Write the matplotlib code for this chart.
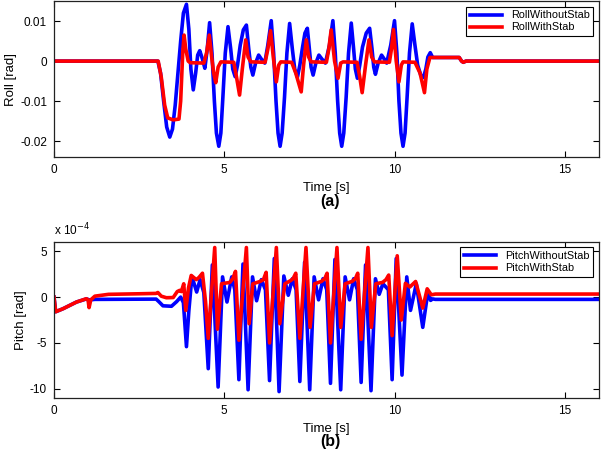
import numpy as np
import matplotlib.pyplot as plt

plt.rcParams['font.family'] = ['Liberation Sans', 'DejaVu Sans']
plt.rcParams['axes.unicode_minus'] = False

# roll, values in 1e-2 rad
roll_t_without = [0, 3.05, 3.13, 3.22, 3.31, 3.40, 3.48, 3.56, 3.64, 3.72, 3.80, 3.89, 3.96, 4.02,
                  4.09, 4.16, 4.22, 4.28, 4.36, 4.43, 4.50,
                  4.57, 4.64, 4.71, 4.77, 4.84, 4.90, 4.96, 5.03, 5.11, 5.19, 5.25, 5.32, 5.39, 5.47,
                  5.56, 5.65, 5.72, 5.78, 5.84, 5.92, 6.01, 6.09, 6.19, 6.28,
                  6.38, 6.45, 6.52, 6.58, 6.64, 6.70, 6.77, 6.84, 6.92, 7.00, 7.07, 7.15, 7.22, 7.30,
                  7.37, 7.44, 7.50, 7.55, 7.61, 7.69, 7.78, 7.87, 7.97, 8.09,
                  8.19, 8.26, 8.33, 8.39, 8.45, 8.51, 8.58, 8.65, 8.73, 8.80, 8.85, 8.91, 8.98, 9.06,
                  9.17, 9.27, 9.34, 9.39, 9.44, 9.52, 9.62, 9.70, 9.77, 9.89,
                  10.00, 10.07, 10.13, 10.19, 10.25, 10.31, 10.37, 10.44, 10.52, 10.60, 10.68, 10.77,
                  10.85, 10.92, 10.98, 11.05, 11.12, 11.90, 11.97, 12.02, 12.10, 16.0]
roll_without = [0, 0, -0.3, -1.0, -1.65, -1.9, -1.7, -1.1, -0.3, 0.5, 1.2, 1.42, 0.8, -0.2,
                -0.72, -0.3, 0.15, 0.26, 0.05, -0.18, 0.3,
                0.96, 0.2, -1.0, -1.8, -2.13, -1.8, -0.9, 0.2, 0.86, 0.3, -0.2, -0.39, -0.1, 0.4,
                0.78, 0.90, 0.3, -0.15, -0.35, -0.05, 0.15, 0.05, -0.05, 0.4,
                1.01, 0.2, -1.0, -1.8, -2.13, -1.8, -0.9, 0.2, 0.94, 0.3, -0.2, -0.40, -0.1, 0.35,
                0.7, 0.82, 0.3, -0.15, -0.35, -0.05, 0.15, 0.05, -0.05, 0.4,
                1.01, 0.2, -1.0, -1.8, -2.13, -1.8, -0.9, 0.2, 0.95, 0.3, -0.2, -0.43, -0.1, 0.35,
                0.7, 0.82, 0.3, -0.15, -0.33, -0.05, 0.15, 0.05, -0.05, 0.4,
                1.01, 0.2, -1.0, -1.8, -2.13, -1.8, -0.9, 0.2, 0.93, 0.4, -0.1, -0.35,
                -0.41, -0.2, 0.1, 0.21, 0.09, 0.09, 0.0, -0.03, 0.0, 0.0]

roll_t_with = [0, 3.06, 3.15, 3.25, 3.34, 3.50, 3.67, 3.72, 3.78, 3.82, 3.87, 3.94, 4.00, 4.40,
               4.48, 4.56, 4.63, 4.69, 4.75, 4.82, 4.90, 5.28, 5.36, 5.45, 5.53, 5.63, 5.70, 5.78,
               6.20, 6.28, 6.36, 6.44, 6.53, 6.60, 6.66, 6.98, 7.10, 7.26, 7.33, 7.41, 7.48, 7.55,
               8.00, 8.07, 8.14, 8.24, 8.34, 8.42, 8.49, 8.90, 8.98, 9.05, 9.15, 9.25, 9.33, 9.41,
               9.85, 9.91, 9.97, 10.05, 10.13, 10.20, 10.25, 10.60, 10.75, 10.88, 10.95, 11.04,
               11.90, 11.97, 12.02, 12.10, 16.0]
roll_with = [0, 0, -0.4, -1.1, -1.42, -1.47, -1.45, -1.0, 0.2, 0.65, 0.3, 0.0, -0.04, -0.05,
             0.2, 0.65, 0.1, -0.3, -0.54, -0.15, -0.02, -0.03, -0.4, -0.85, -0.2, 0.53, 0.1, -0.02,
             -0.03, 0.3, 0.76, 0.1, -0.52, -0.1, -0.02, -0.03, -0.3, -0.77, -0.1, 0.53, 0.1, -0.02,
             -0.03, 0.3, 0.78, 0.0, -0.43, -0.05, -0.02, -0.03, -0.4, -0.79, -0.1, 0.53, 0.1, -0.02,
             -0.03, 0.3, 0.79, 0.0, -0.52, -0.1, -0.02, -0.03, -0.3, -0.79, -0.2, 0.09,
             0.09, 0.0, -0.03, 0.0, 0.0]

# pitch, values in 1e-4 rad
pitch_t_without = [0, 0.05, 0.27, 0.66, 0.95, 1.00, 1.03, 1.07, 1.20, 3.00, 3.08, 3.20, 3.45, 3.60,
                   3.72, 3.80, 3.89, 3.96, 4.05, 4.19, 4.29, 4.40,
                   4.53, 4.65, 4.82, 4.95, 5.08, 5.22, 5.31,
                   5.43, 5.55, 5.70, 5.83, 5.95, 6.09, 6.21,
                   6.33, 6.47, 6.61, 6.75, 6.88, 7.00, 7.11,
                   7.22, 7.36, 7.51, 7.64, 7.77, 7.90, 8.01,
                   8.12, 8.25, 8.42, 8.55, 8.68, 8.80, 8.91,
                   9.02, 9.15, 9.31, 9.44, 9.55, 9.66, 9.82,
                   9.93, 10.05, 10.22, 10.36, 10.47, 10.64, 10.83, 10.98, 11.06, 11.12, 11.20, 16.0]
pitch_without = [0, -1.6, -1.26, -0.54, -0.2, -0.25, -0.6, -0.3, -0.25, -0.22, -0.5, -0.95, -1.0, -0.5,
                 0.0, -0.6, -5.4, -1.5, 2.25, 0.55, 1.9, 0.5,
                 -7.8, 3.5, -9.8, 2.2, -0.54, 2.2, 0.8,
                 -9.0, 3.6, -10.1, 2.2, -0.4, 1.9, 0.8,
                 -9.1, 4.2, -10.3, 2.3, 0.2, 2.0, 0.8,
                 -9.2, 3.8, -10.1, 2.2, -0.3, 2.0, 0.8,
                 -9.4, 4.1, -10.1, 2.2, -0.3, 2.0, 0.8,
                 -9.3, 3.5, -10.2, 2.0, 0.3, 1.45, 0.8,
                 -9.0, 4.2, -8.5, 2.2, -1.45, 1.45, -3.3, 0.55, -0.36, -0.2, -0.25, -0.25]

pitch_t_with = [0, 0.05, 0.27, 0.66, 0.95, 1.00, 1.03, 1.08, 1.20, 1.60, 2.50, 3.00, 3.05, 3.15,
                3.30, 3.50, 3.62, 3.69, 3.74, 3.81, 3.87, 3.95, 4.03, 4.18, 4.26, 4.36, 4.45,
                4.53, 4.72, 4.80, 4.92, 5.16, 5.25, 5.33,
                5.43, 5.65, 5.73, 5.84, 6.05, 6.15, 6.23,
                6.33, 6.53, 6.63, 6.78, 6.95, 7.02, 7.10,
                7.22, 7.40, 7.52, 7.65, 7.85, 7.95, 8.02,
                8.12, 8.31, 8.42, 8.55, 8.75, 8.85, 8.92,
                9.02, 9.22, 9.32, 9.45, 9.65, 9.75, 9.83,
                9.93, 10.08, 10.20, 10.32, 10.45, 10.62, 10.83, 10.96, 11.08, 11.20, 16.0]
pitch_with = [0, -1.6, -1.26, -0.54, -0.18, -0.3, -1.15, -0.3, 0.1, 0.3, 0.36, 0.4, 0.5, 0.1,
              -0.07, -0.05, 0.6, 0.73, 0.6, 1.45, -1.45, 1.0, 2.36, 1.9, 2.15, 2.6, -0.5,
              -4.5, 5.4, -3.5, 1.45, 1.6, 2.0, 2.8,
              -4.7, 5.4, -2.9, 1.45, 1.7, 1.9, 2.7,
              -5.0, 5.4, -2.9, 1.45, 1.8, 2.0, 2.6,
              -4.5, 5.4, -3.3, 1.45, 1.7, 2.0, 2.6,
              -5.0, 5.4, -3.3, 1.45, 1.7, 2.0, 2.6,
              -4.6, 5.4, -3.3, 1.45, 1.6, 1.9, 2.4,
              -4.2, 4.5, -2.5, 1.5, 1.1, 1.7, -1.2, 0.9, 0.25, 0.33, 0.33]

fig = plt.figure(figsize=(6.02, 4.54), dpi=100)
ax1 = fig.add_axes([0.0897, 0.654, 0.905, 0.3436])
ax2 = fig.add_axes([0.0897, 0.1233, 0.905, 0.3436])

ax1.plot(roll_t_without, np.array(roll_without) * 1e-2, color='#0000ff', lw=2.6, label='RollWithoutStab')
ax1.plot(roll_t_with, np.array(roll_with) * 1e-2, color='#ff0000', lw=2.6, label='RollWithStab')
ax1.set_ylim(-0.024, 0.015)
ax1.set_yticks([-0.02, -0.01, 0, 0.01])
ax1.set_yticklabels(['-0.02', '-0.01', '0', '0.01'])
ax1.set_ylabel('Roll [rad]', fontsize=9.5, labelpad=2)

ax2.plot(pitch_t_without, pitch_without, color='#0000ff', lw=2.6, label='PitchWithoutStab')
ax2.plot(pitch_t_with, pitch_with, color='#ff0000', lw=2.6, label='PitchWithStab')
ax2.set_ylim(-11, 6)
ax2.set_yticks([-10, -5, 0, 5])
ax2.set_ylabel('Pitch [rad]', fontsize=9.5, labelpad=2)
ax2.text(0.0, 1.025, 'x 10$^{-4}$', transform=ax2.transAxes, fontsize=8.5, va='bottom', ha='left')

for ax in (ax1, ax2):
    ax.set_xlim(0, 16)
    ax.set_xticks([0, 5, 10, 15])
    ax.tick_params(direction='in', top=True, right=True, labelsize=8.5, length=4, width=0.8, pad=5)
    for s in ax.spines.values():
        s.set_linewidth(0.9)
        s.set_color('#222222')
    ax.set_xlabel('Time [s]', fontsize=9.5, labelpad=4)
    leg = ax.legend(loc='upper right', fontsize=7.8, fancybox=False, framealpha=1,
                    edgecolor='black', handlelength=3.0, borderaxespad=0.5,
                    borderpad=0.35, labelspacing=0.2, handletextpad=0.8)
    leg.get_frame().set_linewidth(0.8)

fig.text(0.548, 0.556, '(a)', fontsize=11.5, fontweight='bold', ha='center', va='center')
fig.text(0.548, 0.028, '(b)', fontsize=11.5, fontweight='bold', ha='center', va='center')

fig.savefig('out.png', dpi=100)
